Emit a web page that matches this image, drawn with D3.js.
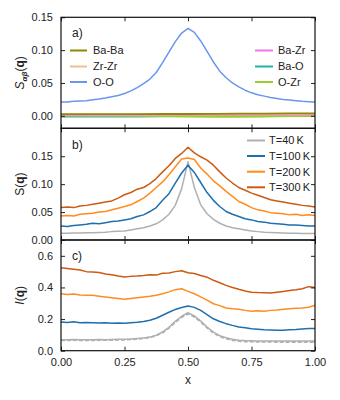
<!DOCTYPE html>
<html><head><meta charset="utf-8">
<script src="https://cdn.jsdelivr.net/npm/d3@7"></script>
<style>body{margin:0;background:#fff}svg{display:block}text{font-family:"Liberation Sans",Arial,sans-serif}</style>
</head><body>
<script>
const qGrid=[0,0.025,0.05,0.075,0.1,0.125,0.15,0.175,0.2,0.225,0.25,0.275,0.3,0.325,0.35,0.375,0.4,0.425,0.45,0.475,0.5,0.525,0.55,0.575,0.6,0.625,0.65,0.675,0.7,0.725,0.75,0.775,0.8,0.825,0.85,0.875,0.9,0.925,0.95,0.975,1.0];
const pairGrid=[0,0.1,0.2,0.3,0.4,0.5,0.6,0.7,0.8,0.9,1.0];
const pairNames=["Ba-Ba","Zr-Zr","O-O","Ba-Zr","Ba-O","O-Zr"];
const pairBaBa=[0.0025,0.0026,0.0025,0.0027,0.0028,0.0028,0.003,0.0032,0.0034,0.0036,0.0038];
const pairZrZr=[0.0018,0.0018,0.0017,0.0018,0.0019,0.002,0.002,0.0021,0.002,0.0021,0.0022];
const pairOO=[0.021,0.021,0.022,0.0225,0.023,0.0245,0.0255,0.027,0.029,0.031,0.034,0.038,0.043,0.049,0.056,0.066,0.081,0.097,0.113,0.126,0.133,0.127,0.114,0.098,0.082,0.068,0.058,0.050,0.044,0.039,0.035,0.032,0.030,0.028,0.0265,0.025,0.024,0.023,0.022,0.0215,0.021];
const pairBaZr=[0.0008,0.0008,0.0009,0.0009,0.001,0.001,0.0011,0.0011,0.001,0.001,0.001];
const pairBaO=[-0.0012,-0.0012,-0.0011,-0.001,-0.0008,-0.0005,-0.0002,0,0,0,0];
const pairOZr=[0.0002,0.0001,0,-0.0003,-0.0006,-0.001,-0.0015,-0.0014,-0.001,-0.0006,-0.0004];
const tempNames=["T=40\u2009K","T=100\u2009K","T=200\u2009K","T=300\u2009K"];
const sT40=[0.012,0.012,0.0125,0.0125,0.013,0.013,0.0135,0.014,0.015,0.0155,0.016,0.018,0.020,0.022,0.025,0.029,0.036,0.046,0.062,0.092,0.140,0.094,0.063,0.047,0.037,0.030,0.025,0.022,0.020,0.018,0.016,0.015,0.014,0.0135,0.013,0.0125,0.012,0.012,0.0115,0.0115,0.0115];
const sT100=[0.025,0.024,0.026,0.027,0.028,0.030,0.029,0.031,0.033,0.034,0.036,0.038,0.042,0.045,0.051,0.058,0.071,0.083,0.102,0.120,0.134,0.121,0.103,0.085,0.071,0.060,0.051,0.046,0.042,0.038,0.036,0.033,0.032,0.030,0.029,0.028,0.027,0.027,0.026,0.025,0.025];
const sT200=[0.043,0.044,0.043,0.046,0.047,0.048,0.050,0.051,0.054,0.057,0.060,0.063,0.069,0.075,0.084,0.094,0.104,0.117,0.131,0.145,0.147,0.144,0.129,0.118,0.106,0.097,0.087,0.078,0.069,0.064,0.058,0.054,0.052,0.049,0.048,0.047,0.045,0.046,0.044,0.045,0.044];
const sT300=[0.058,0.059,0.058,0.061,0.062,0.064,0.066,0.068,0.070,0.075,0.081,0.085,0.091,0.094,0.101,0.110,0.122,0.133,0.146,0.155,0.166,0.156,0.149,0.143,0.134,0.122,0.111,0.102,0.094,0.089,0.084,0.080,0.076,0.072,0.070,0.068,0.066,0.064,0.062,0.061,0.059];
const iT40=[0.07,0.07,0.071,0.07,0.07,0.07,0.071,0.07,0.071,0.072,0.072,0.074,0.077,0.08,0.086,0.098,0.118,0.148,0.186,0.218,0.24,0.22,0.188,0.15,0.118,0.095,0.082,0.072,0.066,0.064,0.063,0.062,0.062,0.062,0.061,0.061,0.061,0.061,0.061,0.061,0.061];
const iT40b=[0.066,0.066,0.067,0.066,0.066,0.066,0.067,0.067,0.067,0.068,0.069,0.071,0.074,0.078,0.084,0.095,0.114,0.143,0.18,0.212,0.232,0.214,0.182,0.145,0.113,0.09,0.076,0.066,0.061,0.058,0.057,0.056,0.056,0.056,0.055,0.055,0.055,0.055,0.055,0.055,0.055];
const iT100=[0.181,0.178,0.183,0.177,0.178,0.177,0.175,0.176,0.174,0.175,0.173,0.177,0.18,0.185,0.192,0.205,0.224,0.243,0.261,0.273,0.283,0.274,0.255,0.228,0.202,0.185,0.171,0.16,0.15,0.145,0.139,0.136,0.133,0.131,0.129,0.13,0.132,0.134,0.137,0.14,0.141];
const iT200=[0.36,0.355,0.358,0.352,0.35,0.35,0.345,0.34,0.335,0.33,0.325,0.33,0.335,0.34,0.344,0.35,0.36,0.372,0.386,0.392,0.375,0.36,0.34,0.32,0.297,0.285,0.27,0.265,0.262,0.255,0.249,0.252,0.25,0.255,0.258,0.262,0.265,0.268,0.27,0.275,0.287];
const iT300=[0.525,0.52,0.515,0.51,0.50,0.498,0.495,0.485,0.48,0.472,0.466,0.47,0.472,0.475,0.48,0.478,0.49,0.492,0.50,0.505,0.493,0.488,0.476,0.465,0.445,0.43,0.413,0.40,0.388,0.378,0.37,0.368,0.367,0.365,0.37,0.375,0.38,0.385,0.392,0.405,0.40];
const xTicks=[0,0.25,0.5,0.75,1.0];
const aTicks=[0,0.05,0.10,0.15];
const bTicks=[0,0.05,0.10,0.15];
const cTicks=[0,0.2,0.4,0.6];

const pairColors=["#8c8a00","#e9c08f","#6a96ee","#ee77ee","#20b2aa","#9acd32"];
const tempColors=["#b0b0b0","#1f6fad","#ff8c1e","#cc5a14"];

const W=340,H=400,L=61,R=315;
const svg=d3.select("body").append("svg").attr("width",W).attr("height",H);
const x=d3.scaleLinear().domain([0,1]).range([L,R]);
const panels=[
 {top:17.3,bot:128.3,dom:[-0.019,0.15],ticks:aTicks,fmt:d3.format(".2f"),tag:"a)"},
 {top:128.3,bot:240,dom:[0,0.2],ticks:bTicks,fmt:d3.format(".2f"),tag:"b)"},
 {top:240,bot:350.7,dom:[0,0.7],ticks:cTicks,fmt:d3.format(".1f"),tag:"c)"}
];
panels.forEach(p=>{p.y=d3.scaleLinear().domain(p.dom).range([p.bot,p.top]);});

function drawLine(p,xs,ys,color,w,dash){
  const ln=d3.line().x((d,i)=>x(xs[i])).y(d=>p.y(d));
  const path=svg.append("path").datum(ys).attr("d",ln).attr("fill","none")
   .attr("stroke",color).attr("stroke-width",w).attr("stroke-linejoin","round");
  if(dash) path.attr("stroke-dasharray",dash);
}
// clip region per panel not needed
const pa=panels[0],pb=panels[1],pc=panels[2];
const pairSeries=[pairBaBa,pairZrZr,null,pairBaZr,pairBaO,pairOZr];
[4,5,3,1,0].forEach(k=>drawLine(pa,pairGrid,pairSeries[k],pairColors[k],1.8));
drawLine(pa,qGrid,pairOO,pairColors[2],1.5);

[sT40,sT100,sT200,sT300].forEach((s,i)=>drawLine(pb,qGrid,s,tempColors[i],1.5));
drawLine(pc,qGrid,iT40b,tempColors[0],1.8,"4,2");
[iT40,iT100,iT200,iT300].forEach((s,i)=>drawLine(pc,qGrid,s,tempColors[i],1.5));

// axes
panels.forEach((p,idx)=>{
  const gl=svg.append("g").attr("transform",`translate(${L},0)`)
    .call(d3.axisLeft(p.y).tickValues(p.ticks).tickFormat(p.fmt).tickSize(-4).tickPadding(8));
  const gr=svg.append("g").attr("transform",`translate(${R},0)`)
    .call(d3.axisRight(p.y).tickValues(p.ticks).tickFormat("").tickSize(-4));
  const gt=svg.append("g").attr("transform",`translate(0,${p.top})`)
    .call(d3.axisTop(x).tickValues(xTicks).tickFormat("").tickSize(-4));
  const gb=svg.append("g").attr("transform",`translate(0,${p.bot})`)
    .call(d3.axisBottom(x).tickValues(xTicks).tickFormat(idx===2?d3.format(".2f"):"").tickSize(-4).tickPadding(8));
  [gl,gr,gt,gb].forEach(g=>{
    g.select(".domain").remove();
    g.selectAll("line").attr("stroke","#222").attr("stroke-width",1);
    g.selectAll("text").attr("font-size",11).attr("fill","#222").attr("font-family","Liberation Sans, Arial, sans-serif");
  });
  svg.append("rect").attr("x",L).attr("y",p.top).attr("width",R-L).attr("height",p.bot-p.top)
    .attr("fill","none").attr("stroke","#111").attr("stroke-width",1.2);
  svg.append("text").attr("x",72).attr("y",p.top+ (idx===1?21:20)).attr("font-size",12).attr("fill","#222").text(p.tag);
});

// y labels
function ylab(p,parts){
  const t=svg.append("text").attr("transform",`translate(24,${(p.top+p.bot)/2}) rotate(-90)`)
    .attr("text-anchor","middle").attr("font-size",12).attr("fill","#222");
  parts.forEach(([s,st])=>{
    const ts=t.append("tspan").text(s);
    if(st.includes("i")) ts.attr("font-style","italic");
    if(st.includes("b")) ts.attr("font-weight","bold");
    if(st.includes("sub")) ts.attr("font-size",8).attr("dy",3);
    if(st.includes("up")) ts.attr("dy",-3);
  });
}
ylab(pa,[["S","i"],["\u03b1\u03b2","isub"],["(","up"],["q","b"],[")",""]]);
ylab(pb,[["S",""],["(",""],["q","b"],[")",""]]);
ylab(pc,[["I","i"],["(",""],["q","b"],[")",""]]);
svg.append("text").attr("x",(L+R)/2).attr("y",384).attr("text-anchor","middle").attr("font-size",12).attr("fill","#222").text("x");

// legends
function legend(names,colors,idxs,lx0,lx1,tx,ys){
  idxs.forEach((k,j)=>{
    svg.append("line").attr("x1",lx0).attr("x2",lx1).attr("y1",ys[j]).attr("y2",ys[j]).attr("stroke",colors[k]).attr("stroke-width",2);
    svg.append("text").attr("x",tx).attr("y",ys[j]).attr("dy","0.36em").attr("font-size",11).attr("fill","#222").text(names[k]);
  });
}
legend(pairNames,pairColors,[0,1,2],70,87,93,[50.5,66.5,82]);
legend(pairNames,pairColors,[3,4,5],255,273,278,[50.5,66.5,82]);
legend(tempNames,tempColors,[0,1,2,3],247,265,269,[140.5,156,171.7,187.3]);
</script>
</body></html>
